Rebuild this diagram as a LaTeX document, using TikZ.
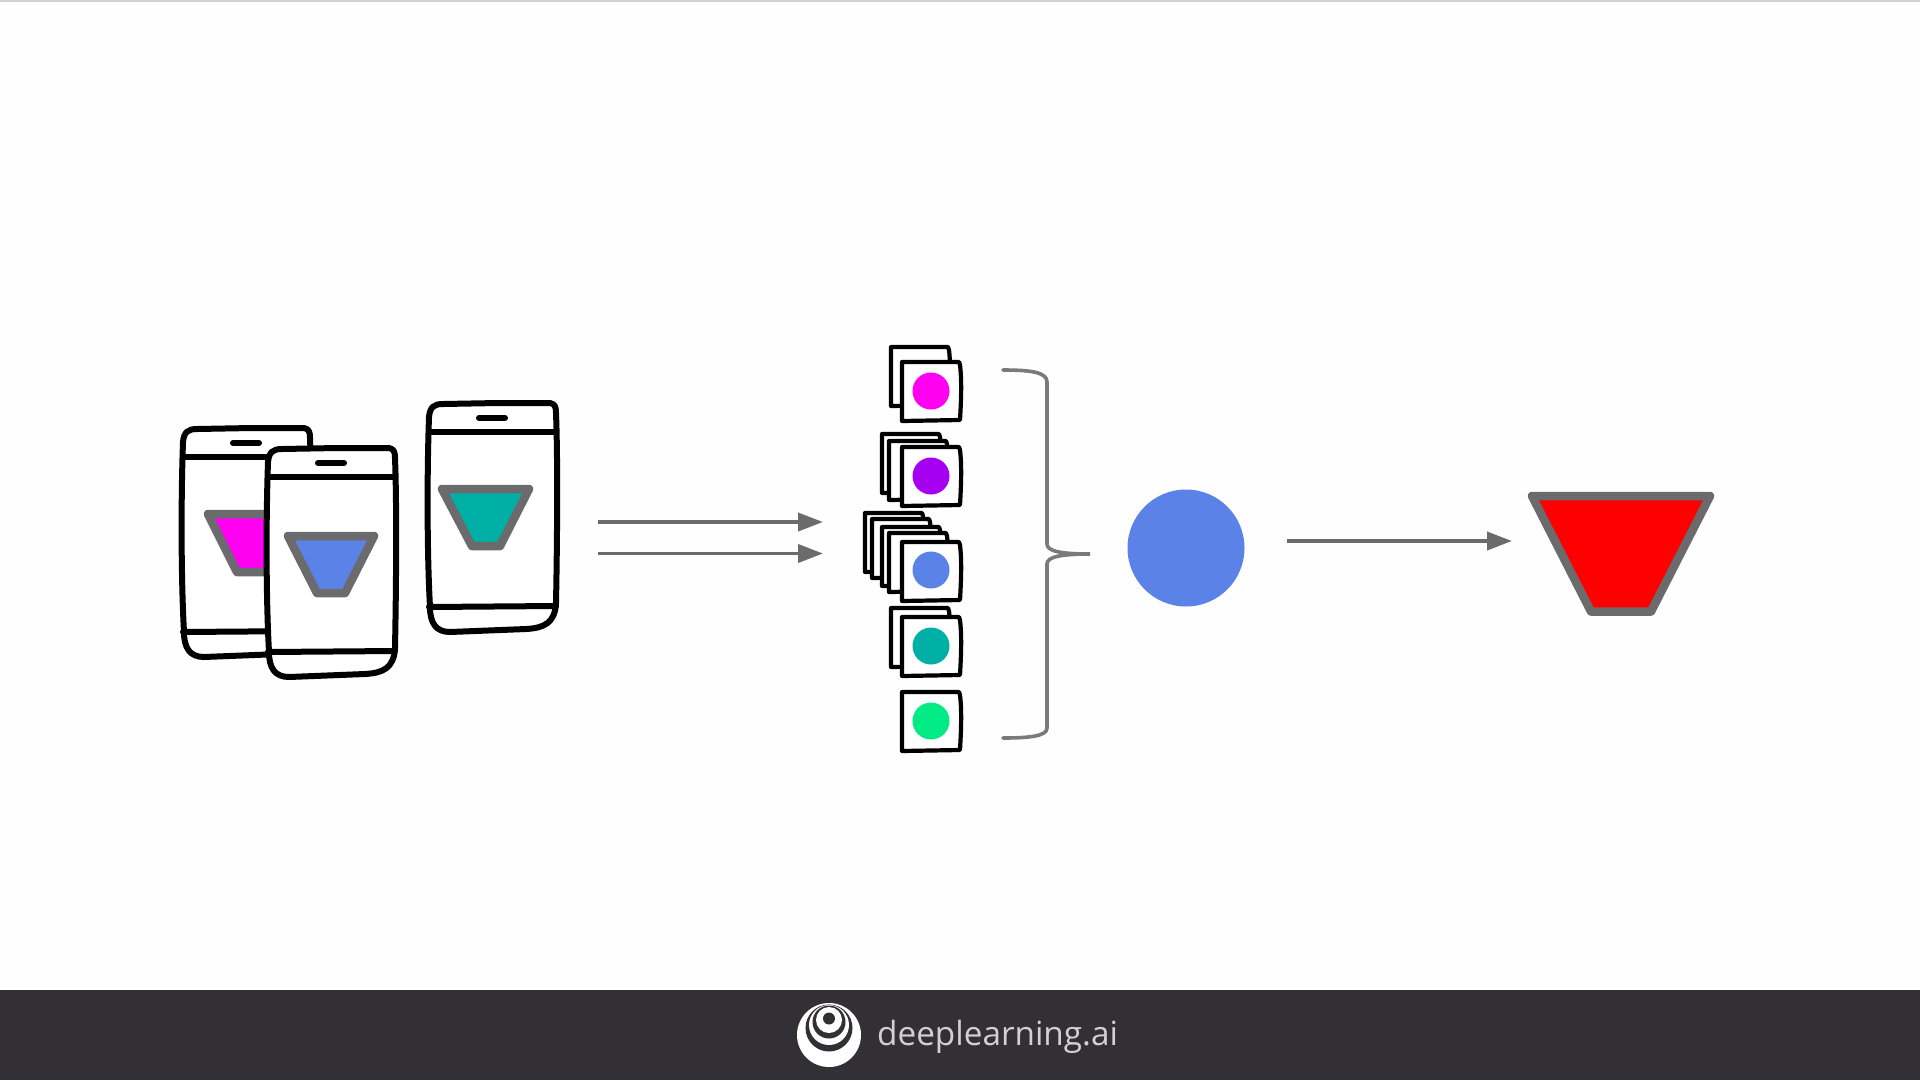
\documentclass[tikz,border=0pt]{standalone}
\usepackage{fontspec}
\setmainfont{Open Sans}
\usetikzlibrary{arrows.meta,calc}
\definecolor{edgegray}{HTML}{6B6B6D}
\definecolor{barcol}{HTML}{323034}
\definecolor{pinkc}{HTML}{FF00F0}
\definecolor{purplec}{HTML}{A600F0}
\definecolor{bluec}{HTML}{5B82E6}
\definecolor{tealc}{HTML}{00AFA5}
\definecolor{greenc}{HTML}{00EB85}
\tikzset{
  phoneline/.style={draw=black,line width=6pt,line cap=round,line join=round},
  cardline/.style={draw=black,fill=white,line width=4.2pt,line join=round},
  trapline/.style={draw=edgegray,line width=8.5pt,line join=round},
  flow/.style={draw=edgegray,line width=3.8pt,-{Triangle[length=25pt,width=18pt]}},
  bracketline/.style={draw=edgegray!90!white,line width=3.6pt,line cap=round},
}
% hand-drawn phone: #1,#2 top-left corner
\newcommand{\handphone}[2]{%
  \begin{scope}[shift={(#1,#2)}]
    \draw[phoneline,fill=white] (1,14) .. controls (2,4) and (6,1) .. (15,1)
      -- (70,0) -- (122,0) .. controls (127,1) and (128,4) .. (128,10)
      .. controls (130,60) and (129,150) .. (128,200)
      .. controls (127,220) and (116,225) .. (98,226)
      -- (22,229) .. controls (8,229) and (2,220) .. (2,204)
      .. controls (-1,150) and (-1,70) .. (1,14) -- cycle;
    \draw[phoneline] (1,29) -- (128,29);
    \draw[phoneline] (1,204) -- (128,203);
    \draw[black,line width=6pt,line cap=round] (51,15) -- (77,15);
  \end{scope}}
% hand-drawn square card: #1,#2 top-left corner
\newcommand{\handcard}[2]{%
  \draw[cardline] (#1,#2) -- ($(#1,#2)+(57,0)$) -- ($(#1,#2)+(58,3)$)
    .. controls ($(#1,#2)+(60,20)$) and ($(#1,#2)+(59,40)$) .. ($(#1,#2)+(58,58)$)
    -- ($(#1,#2)+(0,59)$) -- cycle;}
\begin{document}
\begin{tikzpicture}[x=1pt,y=-1pt]
\useasboundingbox (0,0) rectangle (1920,1080);
\fill[white!99.5!black] (0,0) rectangle (1920,1080);
\fill[black!18] (0,0) rectangle (1920,1.5);
\fill[barcol] (0,990) rectangle (1920,1080);

% phones
\handphone{182}{428}
\draw[trapline,fill=pinkc] (208,514) -- (296,514) -- (296,572) -- (237,572) -- cycle;
\handphone{267}{448}
\draw[trapline,fill=bluec] (288,536) -- (374,536) -- (345,593) -- (317,593) -- cycle;
\handphone{428}{403}
\draw[trapline,fill=tealc] (442,489) -- (529,489) -- (500,546) -- (472,546) -- cycle;

% double arrow
\coordinate (a1s) at (598,522); \coordinate (a1e) at (823,522);
\coordinate (a2s) at (598,553.5); \coordinate (a2e) at (823,553.5);
\draw[flow] (a1s) -- (a1e);
\draw[flow] (a2s) -- (a2e);

% stacks of cards
\handcard{891}{347}
\handcard{902}{362}
\fill[pinkc] (931,391) circle (18.5);
\handcard{882}{434}
\handcard{889}{441}
\handcard{902}{447}
\fill[purplec] (931,476) circle (18.5);
\handcard{865}{513}
\handcard{872}{519}
\handcard{882}{527}
\handcard{889}{533}
\handcard{902}{542}
\fill[bluec] (931,570) circle (18.5);
\handcard{891}{608}
\handcard{902}{617}
\fill[tealc] (931,646) circle (18.5);
\handcard{902}{692}
\fill[greenc] (931,721) circle (18.5);

% brace
\draw[bracketline] (1003,370) .. controls (1030,370) and (1047,372) .. (1047,382)
  -- (1047,544) .. controls (1047,551) and (1060,554) .. (1090,554)
  .. controls (1060,554) and (1047,557) .. (1047,564)
  -- (1047,728) .. controls (1047,736) and (1030,738) .. (1003,738);

% result of the brace
\node[circle,fill=bluec,inner sep=0pt,minimum size=117pt] (avg) at (1186,548) {};

% output arrow
\coordinate (a3s) at (1287,541); \coordinate (a3e) at (1512,541);
\draw[flow] (a3s) -- (a3e);

% red trapezoid
\draw[draw=edgegray,line width=8.5pt,line join=round,fill=red]
  (1532,496) -- (1710,496) -- (1651,611.5) -- (1591,611.5) -- cycle;

% logo
\fill[white] (829,1035) circle (32);
\fill[barcol] (829,1028) circle (23.5);
\fill[white] (829,1025) circle (20);
\fill[barcol] (829,1022) circle (16.5);
\fill[white] (829,1020) circle (13);
\fill[barcol] (829,1018.5) circle (6);

\node[anchor=base west,inner sep=0pt,text=black!18,font=\fontsize{33.3}{33.3}\selectfont] (brand) at (877,1045) {deeplearning.ai};
\end{tikzpicture}
\end{document}
